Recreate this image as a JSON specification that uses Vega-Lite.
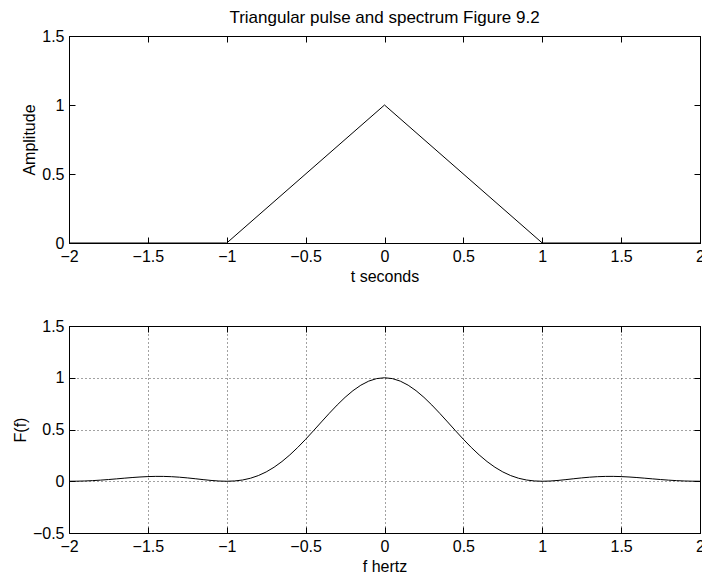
{
  "$schema": "https://vega.github.io/schema/vega-lite/v6.json",
  "autosize": {"type": "pad"},
  "padding": {"left": 11, "top": 8, "right": 0, "bottom": 0},
  "background": "white",
  "bounds": "flush",
  "spacing": 83,
  "datasets": {
    "pulse": [
      {"t": -2, "a": 0}, {"t": -1, "a": 0}, {"t": 0, "a": 1}, {"t": 1, "a": 0}, {"t": 2, "a": 0}
    ],
    "spectrum": [
      {"f": -2.0, "F": 0}, {"f": -1.95, "F": 0.000652}, {"f": -1.9, "F": 0.00268}, {"f": -1.85, "F": 0.006102},
      {"f": -1.8, "F": 0.010804}, {"f": -1.75, "F": 0.016542}, {"f": -1.7, "F": 0.022946}, {"f": -1.65, "F": 0.029546},
      {"f": -1.6, "F": 0.0358}, {"f": -1.55, "F": 0.041141}, {"f": -1.5, "F": 0.045032}, {"f": -1.45, "F": 0.047012},
      {"f": -1.4, "F": 0.046758}, {"f": -1.35, "F": 0.044137}, {"f": -1.3, "F": 0.03924}, {"f": -1.25, "F": 0.032423},
      {"f": -1.2, "F": 0.02431}, {"f": -1.15, "F": 0.01579}, {"f": -1.1, "F": 0.007996}, {"f": -1.05, "F": 0.002249},
      {"f": -1.0, "F": 0}, {"f": -0.95, "F": 0.002747}, {"f": -0.9, "F": 0.011945}, {"f": -0.85, "F": 0.028904},
      {"f": -0.8, "F": 0.054696}, {"f": -0.75, "F": 0.090063}, {"f": -0.7, "F": 0.135338}, {"f": -0.65, "F": 0.190386},
      {"f": -0.6, "F": 0.254572}, {"f": -0.55, "F": 0.326749}, {"f": -0.5, "F": 0.405285}, {"f": -0.45, "F": 0.488106},
      {"f": -0.4, "F": 0.572787}, {"f": -0.35, "F": 0.656638}, {"f": -0.3, "F": 0.73684}, {"f": -0.25, "F": 0.810569},
      {"f": -0.2, "F": 0.87514}, {"f": -0.15, "F": 0.928134}, {"f": -0.1, "F": 0.967531}, {"f": -0.05, "F": 0.991789},
      {"f": 0.0, "F": 1},
      {"f": 0.05, "F": 0.991789}, {"f": 0.1, "F": 0.967531}, {"f": 0.15, "F": 0.928134}, {"f": 0.2, "F": 0.87514},
      {"f": 0.25, "F": 0.810569}, {"f": 0.3, "F": 0.73684}, {"f": 0.35, "F": 0.656638}, {"f": 0.4, "F": 0.572787},
      {"f": 0.45, "F": 0.488106}, {"f": 0.5, "F": 0.405285}, {"f": 0.55, "F": 0.326749}, {"f": 0.6, "F": 0.254572},
      {"f": 0.65, "F": 0.190386}, {"f": 0.7, "F": 0.135338}, {"f": 0.75, "F": 0.090063}, {"f": 0.8, "F": 0.054696},
      {"f": 0.85, "F": 0.028904}, {"f": 0.9, "F": 0.011945}, {"f": 0.95, "F": 0.002747}, {"f": 1.0, "F": 0},
      {"f": 1.05, "F": 0.002249}, {"f": 1.1, "F": 0.007996}, {"f": 1.15, "F": 0.01579}, {"f": 1.2, "F": 0.02431},
      {"f": 1.25, "F": 0.032423}, {"f": 1.3, "F": 0.03924}, {"f": 1.35, "F": 0.044137}, {"f": 1.4, "F": 0.046758},
      {"f": 1.45, "F": 0.047012}, {"f": 1.5, "F": 0.045032}, {"f": 1.55, "F": 0.041141}, {"f": 1.6, "F": 0.0358},
      {"f": 1.65, "F": 0.029546}, {"f": 1.7, "F": 0.022946}, {"f": 1.75, "F": 0.016542}, {"f": 1.8, "F": 0.010804},
      {"f": 1.85, "F": 0.006102}, {"f": 1.9, "F": 0.00268}, {"f": 1.95, "F": 0.000652}, {"f": 2.0, "F": 0}
    ]
  },
  "vconcat": [
    {
      "width": 631,
      "height": 207,
      "title": {"text": "Triangular pulse and spectrum Figure 9.2", "anchor": "middle", "frame": "group", "offset": 1},
      "data": {"name": "pulse"},
      "layer": [
        {
          "mark": {"type": "line", "color": "black", "strokeWidth": 1},
          "encoding": {
            "x": {"field": "t", "type": "quantitative", "scale": {"domain": [-2, 2], "nice": false, "zero": false},
                  "axis": {"orient": "bottom", "title": "t seconds", "format": "~g", "values": [-2, -1.5, -1, -0.5, 0, 0.5, 1, 1.5, 2]}},
            "y": {"field": "a", "type": "quantitative", "scale": {"domain": [0, 1.5], "nice": false},
                  "axis": {"orient": "left", "title": "Amplitude", "format": "~g", "values": [0, 0.5, 1, 1.5]}}
          }
        },
        {
          "mark": {"type": "line", "color": "black", "strokeOpacity": 0},
          "encoding": {
            "x": {"field": "t", "type": "quantitative",
                  "axis": {"orient": "top", "title": null, "labels": false, "values": [-2, -1.5, -1, -0.5, 0, 0.5, 1, 1.5, 2]}},
            "y": {"field": "a", "type": "quantitative",
                  "axis": {"orient": "right", "title": null, "labels": false, "values": [0, 0.5, 1, 1.5]}}
          }
        }
      ],
      "resolve": {"axis": {"x": "independent", "y": "independent"}}
    },
    {
      "width": 631,
      "height": 207,
      "data": {"name": "spectrum"},
      "layer": [
        {
          "mark": {"type": "line", "color": "black", "strokeWidth": 1},
          "encoding": {
            "x": {"field": "f", "type": "quantitative", "scale": {"domain": [-2, 2], "nice": false, "zero": false},
                  "axis": {"orient": "bottom", "title": "f hertz", "format": "~g", "grid": true, "values": [-2, -1.5, -1, -0.5, 0, 0.5, 1, 1.5, 2]}},
            "y": {"field": "F", "type": "quantitative", "scale": {"domain": [-0.5, 1.5], "nice": false, "zero": false},
                  "axis": {"orient": "left", "title": "F(f)", "format": "~g", "grid": true, "values": [-0.5, 0, 0.5, 1, 1.5]}}
          }
        },
        {
          "mark": {"type": "line", "color": "black", "strokeOpacity": 0},
          "encoding": {
            "x": {"field": "f", "type": "quantitative",
                  "axis": {"orient": "top", "title": null, "labels": false, "values": [-2, -1.5, -1, -0.5, 0, 0.5, 1, 1.5, 2]}},
            "y": {"field": "F", "type": "quantitative",
                  "axis": {"orient": "right", "title": null, "labels": false, "values": [-0.5, 0, 0.5, 1, 1.5]}}
          }
        }
      ],
      "resolve": {"axis": {"x": "independent", "y": "independent"}}
    }
  ],
  "config": {
    "font": "Liberation Sans",
    "view": {"stroke": "black", "strokeWidth": 1},
    "title": {"font": "Liberation Sans", "fontSize": 17, "fontWeight": "normal", "color": "black"},
    "axis": {
      "labelFont": "Liberation Sans", "labelFontSize": 16, "labelColor": "black",
      "titleFont": "Liberation Sans", "titleFontSize": 16, "titleFontWeight": "normal", "titleColor": "black",
      "domainColor": "black", "tickColor": "black", "tickSize": -6, "labelPadding": 11, "titlePadding": 4,
      "grid": false, "gridColor": "#444", "gridDash": [1, 3], "gridWidth": 1,
      "labelFlush": false, "labelOverlap": false, "labelBound": false
    }
  }
}
